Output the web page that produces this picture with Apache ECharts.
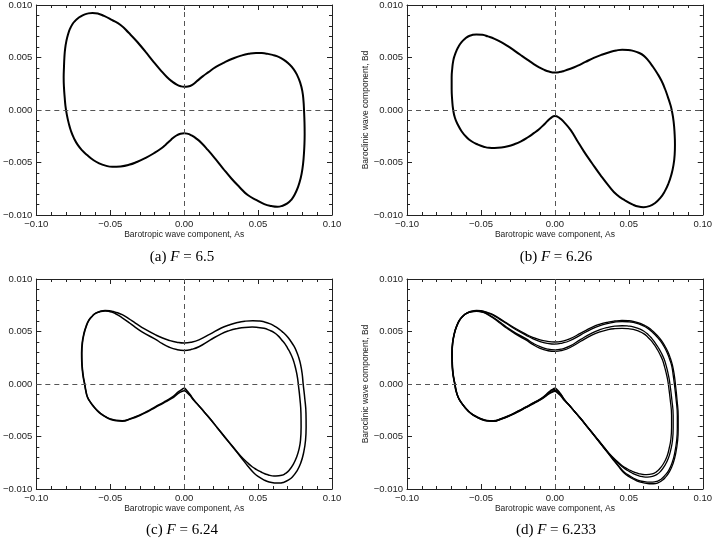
<!DOCTYPE html>
<html>
<head>
<meta charset="utf-8">
<script src="https://cdn.jsdelivr.net/npm/echarts@6/dist/echarts.min.js"></script>
<style>
html, body { margin: 0; padding: 0; background: #fff; }
#chart { width: 715px; height: 543px; }
</style>
</head>
<body>
<div id="chart"></div>
<script>
// axis ticks and labels
var xMin = -0.1, xMax = 0.1, xStep = 0.05;
var yMin = -0.01, yMax = 0.01, yStep = 0.005;
var xTickLabels = ['\u22120.10', '\u22120.05', '0.00', '0.05', '0.10'];
var yTickLabels = ['\u22120.010', '\u22120.005', '0.000', '0.005', '0.010'];
var xName = 'Barotropic wave component, As';
var yName = 'Baroclinic wave component, Bd';
var captions = ['(a)', '(b)', '(c)', '(d)'];
var forcing = ['6.5', '6.26', '6.24', '6.233'];

// (a) F = 6.5, single loop  [As, Bd]
var loopA = [
  [-0.0620,0.00925],[-0.0580,0.00917],[-0.0542,0.00896],[-0.0490,0.00858],[-0.0430,0.00810],
  [-0.0375,0.00735],[-0.0318,0.00650],[-0.0262,0.00555],[-0.0207,0.00458],[-0.0160,0.00380],
  [-0.0117,0.00314],[-0.0085,0.00275],[-0.0050,0.00242],[-0.0020,0.00225],[0.0000,0.00221],
  [0.0025,0.00224],[0.0055,0.00240],[0.0090,0.00280],[0.0125,0.00320],[0.0162,0.00358],
  [0.0215,0.00410],[0.0274,0.00454],[0.0330,0.00490],[0.0385,0.00518],[0.0436,0.00536],
  [0.0486,0.00544],[0.0525,0.00542],[0.0560,0.00536],[0.0598,0.00525],[0.0631,0.00510],
  [0.0672,0.00480],[0.0709,0.00438],[0.0740,0.00390],[0.0765,0.00330],[0.0785,0.00260],
  [0.0799,0.00182],[0.0807,0.00090],[0.0811,-0.00010],[0.0814,-0.00120],[0.0815,-0.00234],
  [0.0813,-0.00345],[0.0808,-0.00458],[0.0800,-0.00560],[0.0788,-0.00650],[0.0770,-0.00735],
  [0.0748,-0.00805],[0.0725,-0.00855],[0.0698,-0.00890],[0.0665,-0.00912],[0.0631,-0.00922],
  [0.0590,-0.00915],[0.0542,-0.00896],[0.0490,-0.00858],[0.0430,-0.00810],[0.0375,-0.00735],
  [0.0318,-0.00650],[0.0262,-0.00555],[0.0207,-0.00458],[0.0160,-0.00380],[0.0117,-0.00314],
  [0.0085,-0.00275],[0.0050,-0.00242],[0.0020,-0.00225],[0.0000,-0.00222],[-0.0025,-0.00226],
  [-0.0055,-0.00245],[-0.0090,-0.00285],[-0.0125,-0.00330],[-0.0151,-0.00362],[-0.0205,-0.00412],
  [-0.0263,-0.00458],[-0.0320,-0.00495],[-0.0374,-0.00522],[-0.0430,-0.00537],[-0.0486,-0.00541],
  [-0.0532,-0.00530],[-0.0575,-0.00508],[-0.0617,-0.00474],[-0.0654,-0.00432],[-0.0690,-0.00385],
  [-0.0721,-0.00330],[-0.0745,-0.00270],[-0.0765,-0.00202],[-0.0781,-0.00125],[-0.0794,-0.00042],
  [-0.0803,0.00040],[-0.0808,0.00118],[-0.0813,0.00215],[-0.0815,0.00310],[-0.0813,0.00405],
  [-0.0810,0.00502],[-0.0805,0.00585],[-0.0796,0.00662],[-0.0785,0.00722],[-0.0772,0.00774],
  [-0.0757,0.00815],[-0.0738,0.00848],[-0.0714,0.00878],[-0.0687,0.00902],[-0.0655,0.00918],
  [-0.0620,0.00925]
];

// (b) F = 6.26
var loopB = [
  [-0.0531,0.00720],[-0.0490,0.00716],[-0.0453,0.00701],[-0.0408,0.00678],[-0.0363,0.00646],
  [-0.0318,0.00608],[-0.0274,0.00566],[-0.0229,0.00521],[-0.0184,0.00477],[-0.0145,0.00440],
  [-0.0106,0.00406],[-0.0075,0.00384],[-0.0040,0.00366],[0.0000,0.00357],[0.0030,0.00361],
  [0.0061,0.00372],[0.0105,0.00393],[0.0151,0.00420],[0.0207,0.00458],[0.0263,0.00496],
  [0.0320,0.00528],[0.0374,0.00553],[0.0415,0.00567],[0.0455,0.00574],[0.0495,0.00572],
  [0.0530,0.00563],[0.0567,0.00545],[0.0600,0.00518],[0.0631,0.00472],[0.0660,0.00418],
  [0.0692,0.00350],[0.0721,0.00278],[0.0745,0.00200],[0.0765,0.00120],[0.0780,0.00055],
  [0.0790,0.00000],[0.0803,-0.00110],[0.0810,-0.00234],[0.0812,-0.00330],[0.0810,-0.00426],
  [0.0802,-0.00525],[0.0788,-0.00615],[0.0768,-0.00700],[0.0743,-0.00775],[0.0712,-0.00840],
  [0.0676,-0.00888],[0.0640,-0.00915],[0.0600,-0.00925],[0.0565,-0.00920],[0.0531,-0.00904],
  [0.0475,-0.00862],[0.0419,-0.00808],[0.0363,-0.00720],[0.0307,-0.00618],[0.0250,-0.00505],
  [0.0196,-0.00394],[0.0150,-0.00290],[0.0106,-0.00190],[0.0065,-0.00120],[0.0030,-0.00075],
  [0.0000,-0.00057],[-0.0028,-0.00078],[-0.0050,-0.00105],[-0.0073,-0.00138],[-0.0105,-0.00180],
  [-0.0140,-0.00218],[-0.0185,-0.00262],[-0.0229,-0.00298],[-0.0274,-0.00326],[-0.0318,-0.00346],
  [-0.0363,-0.00358],[-0.0408,-0.00362],[-0.0445,-0.00360],[-0.0475,-0.00352],[-0.0520,-0.00330],
  [-0.0564,-0.00298],[-0.0600,-0.00255],[-0.0631,-0.00202],[-0.0656,-0.00140],[-0.0676,-0.00074],
  [-0.0688,0.00005],[-0.0694,0.00086],[-0.0698,0.00200],[-0.0698,0.00310],[-0.0694,0.00395],
  [-0.0687,0.00470],[-0.0677,0.00522],[-0.0665,0.00566],[-0.0650,0.00608],[-0.0631,0.00646],
  [-0.0610,0.00676],[-0.0587,0.00700],[-0.0560,0.00714],[-0.0531,0.00720]
];

// (c) F = 6.24, period-2: outer and inner turn
var loopCOuter = [
  [-0.0535,0.00700],[-0.0505,0.00698],[-0.0480,0.00690],[-0.0450,0.00678],[-0.0419,0.00660],
  [-0.0375,0.00622],[-0.0330,0.00580],[-0.0265,0.00522],[-0.0196,0.00470],[-0.0150,0.00440],
  [-0.0100,0.00415],[-0.0050,0.00398],[0.0000,0.00390],[0.0050,0.00398],[0.0100,0.00420],
  [0.0175,0.00475],[0.0251,0.00533],[0.0305,0.00562],[0.0360,0.00585],[0.0410,0.00598],
  [0.0464,0.00603],[0.0505,0.00600],[0.0540,0.00592],[0.0578,0.00575],[0.0610,0.00552],
  [0.0642,0.00523],[0.0670,0.00490],[0.0697,0.00452],[0.0720,0.00410],[0.0742,0.00362],
  [0.0760,0.00310],[0.0775,0.00252],[0.0787,0.00190],[0.0798,0.00100],[0.0805,0.00000],
  [0.0816,-0.00140],[0.0824,-0.00280],[0.0825,-0.00410],[0.0821,-0.00536],[0.0808,-0.00655],
  [0.0788,-0.00755],[0.0762,-0.00830],[0.0732,-0.00885],[0.0705,-0.00915],[0.0675,-0.00935],
  [0.0642,-0.00944],[0.0610,-0.00942],[0.0575,-0.00933],[0.0542,-0.00915],[0.0505,-0.00885],
  [0.0470,-0.00845],[0.0430,-0.00780],[0.0385,-0.00700],[0.0330,-0.00603],[0.0273,-0.00504],
  [0.0223,-0.00416],[0.0173,-0.00329],[0.0133,-0.00262],[0.0095,-0.00201],[0.0065,-0.00150],
  [0.0040,-0.00100],[0.0018,-0.00062],[0.0000,-0.00041],[-0.0020,-0.00055],[-0.0040,-0.00075],
  [-0.0084,-0.00128],[-0.0140,-0.00175],[-0.0196,-0.00217],[-0.0248,-0.00258],[-0.0300,-0.00295],
  [-0.0360,-0.00328],[-0.0419,-0.00350],[-0.0460,-0.00346],[-0.0500,-0.00332],[-0.0530,-0.00312],
  [-0.0560,-0.00285],[-0.0587,-0.00253],[-0.0609,-0.00218],[-0.0634,-0.00172],[-0.0654,-0.00123],
  [-0.0665,-0.00060],[-0.0672,0.00000],[-0.0681,0.00066],[-0.0687,0.00132],[-0.0691,0.00212],
  [-0.0692,0.00292],[-0.0688,0.00390],[-0.0676,0.00483],[-0.0661,0.00552],[-0.0642,0.00610],
  [-0.0620,0.00648],[-0.0598,0.00674],[-0.0568,0.00692],[-0.0535,0.00700]
];
var loopCInner = [
  [-0.0535,0.00695],[-0.0505,0.00690],[-0.0480,0.00680],[-0.0450,0.00658],[-0.0419,0.00630],
  [-0.0375,0.00587],[-0.0330,0.00540],[-0.0265,0.00480],[-0.0196,0.00428],[-0.0150,0.00386],
  [-0.0100,0.00350],[-0.0050,0.00328],[0.0000,0.00320],[0.0050,0.00330],[0.0100,0.00355],
  [0.0175,0.00418],[0.0251,0.00478],[0.0305,0.00508],[0.0360,0.00528],[0.0410,0.00539],
  [0.0460,0.00542],[0.0500,0.00538],[0.0540,0.00530],[0.0575,0.00513],[0.0609,0.00490],
  [0.0636,0.00458],[0.0660,0.00420],[0.0682,0.00382],[0.0700,0.00340],[0.0719,0.00292],
  [0.0735,0.00240],[0.0749,0.00176],[0.0760,0.00110],[0.0767,0.00055],[0.0772,0.00000],
  [0.0783,-0.00140],[0.0790,-0.00280],[0.0791,-0.00410],[0.0787,-0.00536],[0.0777,-0.00620],
  [0.0761,-0.00695],[0.0738,-0.00765],[0.0709,-0.00823],[0.0685,-0.00852],[0.0660,-0.00870],
  [0.0620,-0.00877],[0.0595,-0.00875],[0.0570,-0.00866],[0.0545,-0.00855],[0.0520,-0.00838],
  [0.0490,-0.00815],[0.0460,-0.00788],[0.0425,-0.00745],[0.0385,-0.00690],[0.0330,-0.00598],
  [0.0273,-0.00500],[0.0223,-0.00413],[0.0173,-0.00326],[0.0133,-0.00262],[0.0095,-0.00200],
  [0.0065,-0.00155],[0.0040,-0.00110],[0.0018,-0.00080],[0.0000,-0.00064],[-0.0020,-0.00074],
  [-0.0040,-0.00090],[-0.0084,-0.00138],[-0.0140,-0.00182],[-0.0196,-0.00224],[-0.0248,-0.00264],
  [-0.0300,-0.00300],[-0.0360,-0.00332],[-0.0419,-0.00354],[-0.0460,-0.00350],[-0.0500,-0.00336],
  [-0.0530,-0.00316],[-0.0560,-0.00288],[-0.0587,-0.00256],[-0.0609,-0.00222],[-0.0634,-0.00175],
  [-0.0654,-0.00126],[-0.0666,-0.00062],[-0.0674,0.00000],[-0.0683,0.00066],[-0.0689,0.00132],
  [-0.0693,0.00212],[-0.0694,0.00292],[-0.0690,0.00390],[-0.0678,0.00483],[-0.0663,0.00552],
  [-0.0644,0.00610],[-0.0622,0.00646],[-0.0600,0.00672],[-0.0570,0.00688],[-0.0535,0.00695]
];

// (d) F = 6.233, period-4: two outer and two inner turns
var loopDOuter1 = [
  [-0.0530,0.00700],[-0.0500,0.00698],[-0.0475,0.00690],[-0.0447,0.00677],[-0.0418,0.00660],
  [-0.0375,0.00625],[-0.0330,0.00585],[-0.0265,0.00528],[-0.0196,0.00475],[-0.0150,0.00445],
  [-0.0100,0.00420],[-0.0050,0.00406],[0.0000,0.00400],[0.0050,0.00408],[0.0100,0.00430],
  [0.0175,0.00484],[0.0250,0.00540],[0.0305,0.00570],[0.0360,0.00590],[0.0405,0.00600],
  [0.0454,0.00605],[0.0495,0.00603],[0.0530,0.00597],[0.0567,0.00583],[0.0600,0.00563],
  [0.0635,0.00535],[0.0665,0.00500],[0.0694,0.00460],[0.0720,0.00415],[0.0744,0.00362],
  [0.0765,0.00305],[0.0781,0.00245],[0.0795,0.00180],[0.0807,0.00090],[0.0815,0.00000],
  [0.0826,-0.00150],[0.0834,-0.00310],[0.0834,-0.00430],[0.0830,-0.00540],[0.0818,-0.00655],
  [0.0800,-0.00755],[0.0775,-0.00835],[0.0745,-0.00893],[0.0722,-0.00922],[0.0700,-0.00940],
  [0.0666,-0.00950],[0.0638,-0.00950],[0.0610,-0.00945],[0.0580,-0.00935],[0.0550,-0.00920],
  [0.0510,-0.00890],[0.0470,-0.00850],[0.0430,-0.00785],[0.0385,-0.00705],[0.0330,-0.00607],
  [0.0273,-0.00505],[0.0223,-0.00418],[0.0173,-0.00330],[0.0133,-0.00262],[0.0095,-0.00200],
  [0.0065,-0.00148],[0.0040,-0.00095],[0.0018,-0.00058],[0.0000,-0.00040],[-0.0020,-0.00054],
  [-0.0040,-0.00075],[-0.0084,-0.00128],[-0.0140,-0.00175],[-0.0196,-0.00217],[-0.0248,-0.00256],
  [-0.0300,-0.00293],[-0.0360,-0.00327],[-0.0418,-0.00350],[-0.0460,-0.00346],[-0.0500,-0.00330],
  [-0.0530,-0.00310],[-0.0560,-0.00285],[-0.0587,-0.00253],[-0.0609,-0.00218],[-0.0634,-0.00172],
  [-0.0654,-0.00123],[-0.0667,-0.00060],[-0.0675,0.00000],[-0.0684,0.00066],[-0.0690,0.00132],
  [-0.0693,0.00212],[-0.0694,0.00292],[-0.0690,0.00390],[-0.0678,0.00483],[-0.0662,0.00552],
  [-0.0642,0.00610],[-0.0620,0.00648],[-0.0596,0.00675],[-0.0565,0.00693],[-0.0530,0.00700]
];
var loopDOuter2 = [
  [-0.0530,0.00697],[-0.0500,0.00694],[-0.0475,0.00686],[-0.0447,0.00672],[-0.0418,0.00655],
  [-0.0375,0.00618],[-0.0330,0.00578],[-0.0265,0.00519],[-0.0196,0.00466],[-0.0150,0.00432],
  [-0.0100,0.00404],[-0.0050,0.00387],[0.0000,0.00380],[0.0050,0.00390],[0.0100,0.00412],
  [0.0175,0.00468],[0.0250,0.00525],[0.0305,0.00557],[0.0360,0.00578],[0.0405,0.00590],
  [0.0454,0.00595],[0.0495,0.00593],[0.0530,0.00587],[0.0567,0.00573],[0.0600,0.00553],
  [0.0633,0.00525],[0.0662,0.00490],[0.0690,0.00450],[0.0716,0.00405],[0.0740,0.00352],
  [0.0760,0.00295],[0.0776,0.00236],[0.0790,0.00172],[0.0800,0.00085],[0.0808,0.00000],
  [0.0820,-0.00150],[0.0828,-0.00300],[0.0828,-0.00420],[0.0824,-0.00530],[0.0812,-0.00645],
  [0.0794,-0.00745],[0.0770,-0.00822],[0.0740,-0.00878],[0.0718,-0.00907],[0.0695,-0.00925],
  [0.0660,-0.00935],[0.0633,-0.00935],[0.0605,-0.00930],[0.0576,-0.00922],[0.0548,-0.00908],
  [0.0510,-0.00878],[0.0470,-0.00840],[0.0430,-0.00777],[0.0385,-0.00700],[0.0330,-0.00603],
  [0.0273,-0.00502],[0.0223,-0.00415],[0.0173,-0.00328],[0.0133,-0.00262],[0.0095,-0.00199],
  [0.0065,-0.00150],[0.0040,-0.00100],[0.0018,-0.00066],[0.0000,-0.00050],[-0.0020,-0.00062],
  [-0.0040,-0.00082],[-0.0084,-0.00132],[-0.0140,-0.00178],[-0.0196,-0.00220],[-0.0248,-0.00259],
  [-0.0300,-0.00296],[-0.0360,-0.00330],[-0.0418,-0.00352],[-0.0460,-0.00348],[-0.0500,-0.00332],
  [-0.0530,-0.00312],[-0.0560,-0.00287],[-0.0587,-0.00255],[-0.0609,-0.00220],[-0.0634,-0.00174],
  [-0.0654,-0.00125],[-0.0668,-0.00061],[-0.0676,0.00000],[-0.0685,0.00066],[-0.0691,0.00132],
  [-0.0694,0.00212],[-0.0695,0.00292],[-0.0691,0.00390],[-0.0679,0.00483],[-0.0663,0.00552],
  [-0.0643,0.00610],[-0.0621,0.00647],[-0.0597,0.00673],[-0.0566,0.00690],[-0.0530,0.00697]
];
var loopDInner1 = [
  [-0.0530,0.00694],[-0.0500,0.00690],[-0.0475,0.00680],[-0.0447,0.00660],[-0.0418,0.00635],
  [-0.0375,0.00592],[-0.0330,0.00545],[-0.0265,0.00485],[-0.0196,0.00432],[-0.0150,0.00390],
  [-0.0100,0.00355],[-0.0050,0.00333],[0.0000,0.00325],[0.0050,0.00335],[0.0100,0.00360],
  [0.0175,0.00425],[0.0250,0.00485],[0.0305,0.00518],[0.0360,0.00540],[0.0405,0.00551],
  [0.0454,0.00555],[0.0495,0.00552],[0.0530,0.00545],[0.0567,0.00528],[0.0600,0.00505],
  [0.0630,0.00472],[0.0655,0.00435],[0.0678,0.00392],[0.0700,0.00345],[0.0720,0.00295],
  [0.0738,0.00240],[0.0752,0.00178],[0.0763,0.00115],[0.0772,0.00055],[0.0778,0.00000],
  [0.0791,-0.00150],[0.0800,-0.00300],[0.0800,-0.00420],[0.0795,-0.00540],[0.0784,-0.00625],
  [0.0768,-0.00705],[0.0745,-0.00773],[0.0716,-0.00830],[0.0692,-0.00860],[0.0665,-0.00878],
  [0.0625,-0.00887],[0.0600,-0.00885],[0.0575,-0.00877],[0.0550,-0.00866],[0.0522,-0.00848],
  [0.0492,-0.00824],[0.0462,-0.00796],[0.0425,-0.00750],[0.0385,-0.00694],[0.0330,-0.00600],
  [0.0273,-0.00500],[0.0223,-0.00413],[0.0173,-0.00326],[0.0133,-0.00262],[0.0095,-0.00199],
  [0.0065,-0.00155],[0.0040,-0.00110],[0.0018,-0.00078],[0.0000,-0.00062],[-0.0020,-0.00074],
  [-0.0040,-0.00090],[-0.0084,-0.00136],[-0.0140,-0.00181],[-0.0196,-0.00223],[-0.0248,-0.00262],
  [-0.0300,-0.00298],[-0.0360,-0.00332],[-0.0418,-0.00354],[-0.0460,-0.00350],[-0.0500,-0.00334],
  [-0.0530,-0.00314],[-0.0560,-0.00289],[-0.0587,-0.00257],[-0.0609,-0.00222],[-0.0634,-0.00176],
  [-0.0654,-0.00127],[-0.0669,-0.00062],[-0.0677,0.00000],[-0.0686,0.00066],[-0.0692,0.00132],
  [-0.0695,0.00212],[-0.0696,0.00292],[-0.0692,0.00390],[-0.0680,0.00483],[-0.0664,0.00552],
  [-0.0644,0.00610],[-0.0622,0.00646],[-0.0598,0.00672],[-0.0567,0.00688],[-0.0530,0.00694]
];
var loopDInner2 = [
  [-0.0530,0.00692],[-0.0500,0.00687],[-0.0475,0.00677],[-0.0447,0.00655],[-0.0418,0.00628],
  [-0.0375,0.00584],[-0.0330,0.00536],[-0.0265,0.00475],[-0.0196,0.00420],[-0.0150,0.00377],
  [-0.0100,0.00340],[-0.0050,0.00318],[0.0000,0.00310],[0.0050,0.00320],[0.0100,0.00345],
  [0.0175,0.00407],[0.0250,0.00465],[0.0305,0.00497],[0.0360,0.00518],[0.0405,0.00527],
  [0.0454,0.00530],[0.0495,0.00527],[0.0530,0.00520],[0.0567,0.00503],[0.0600,0.00480],
  [0.0626,0.00450],[0.0650,0.00415],[0.0672,0.00374],[0.0692,0.00330],[0.0711,0.00281],
  [0.0728,0.00228],[0.0741,0.00168],[0.0752,0.00108],[0.0761,0.00052],[0.0767,0.00000],
  [0.0780,-0.00150],[0.0789,-0.00300],[0.0789,-0.00415],[0.0784,-0.00530],[0.0773,-0.00612],
  [0.0758,-0.00690],[0.0735,-0.00757],[0.0706,-0.00812],[0.0683,-0.00840],[0.0658,-0.00857],
  [0.0620,-0.00864],[0.0595,-0.00862],[0.0570,-0.00855],[0.0545,-0.00844],[0.0518,-0.00828],
  [0.0488,-0.00806],[0.0458,-0.00780],[0.0423,-0.00738],[0.0385,-0.00688],[0.0330,-0.00596],
  [0.0273,-0.00498],[0.0223,-0.00411],[0.0173,-0.00324],[0.0133,-0.00261],[0.0095,-0.00198],
  [0.0065,-0.00158],[0.0040,-0.00115],[0.0018,-0.00085],[0.0000,-0.00070],[-0.0020,-0.00080],
  [-0.0040,-0.00095],[-0.0084,-0.00140],[-0.0140,-0.00184],[-0.0196,-0.00226],[-0.0248,-0.00265],
  [-0.0300,-0.00300],[-0.0360,-0.00334],[-0.0418,-0.00356],[-0.0460,-0.00352],[-0.0500,-0.00336],
  [-0.0530,-0.00316],[-0.0560,-0.00290],[-0.0587,-0.00258],[-0.0609,-0.00224],[-0.0634,-0.00177],
  [-0.0654,-0.00128],[-0.0670,-0.00063],[-0.0678,0.00000],[-0.0687,0.00066],[-0.0693,0.00132],
  [-0.0696,0.00212],[-0.0697,0.00292],[-0.0693,0.00390],[-0.0681,0.00483],[-0.0665,0.00552],
  [-0.0645,0.00610],[-0.0623,0.00645],[-0.0599,0.00671],[-0.0568,0.00687],[-0.0530,0.00692]
];

var panels = [
  { left: 33, top: 5, width: 299, height: 210, yTitle: false, loops: [loopA], lw: 2, smooth: 0.5, start: 6, cx: 182, cy: 257 },
  { left: 407, top: 5, width: 298, height: 210, yTitle: true, loops: [loopB], lw: 2, smooth: 0.5, start: 6, cx: 556, cy: 257 },
  { left: 33, top: 279, width: 299, height: 210, yTitle: false, loops: [loopCOuter, loopCInner], lw: 1.5, smooth: 0.5, start: 7, cx: 182, cy: 530 },
  { left: 407, top: 279, width: 298, height: 210, yTitle: true, loops: [loopDOuter1, loopDOuter2, loopDInner1, loopDInner2], lw: 1.3, smooth: 0.5, start: 7, cx: 556, cy: 530 }
];

var textCol = '#222';
var sans = '"Liberation Sans", Arial, sans-serif';
var serif = '"Liberation Serif", "Times New Roman", serif';

function fix(v) { return Math.abs(v) < 1e-9 ? 0 : v; }

// start the closed path in a straight stretch and run one step past the end,
// so the smoothing has no visible seam
function closedPath(loop, start) {
  var body = loop.slice(0, loop.length - 1);
  var r = body.slice(start).concat(body.slice(0, start));
  r.push(r[0], r[1]);
  return r;
}

function xAxisFor(i, pos, p) {
  var bottom = pos === 'bottom';
  return {
    type: 'value', gridIndex: i, position: pos,
    min: xMin, max: xMax, interval: xStep,
    axisLine: { show: true, onZero: false, lineStyle: { color: textCol, width: 1 } },
    axisTick: { show: true, inside: true, length: 5, lineStyle: { color: textCol } },
    minorTick: { show: true, splitNumber: 5, length: 3, lineStyle: { color: textCol } },
    splitLine: { show: false },
    axisLabel: {
      show: bottom, margin: 4, color: textCol, fontFamily: sans, fontSize: 9.5,
      formatter: function (v) { return xTickLabels[Math.round((fix(v) - xMin) / xStep)]; }
    },
    name: bottom ? xName : '',
    nameLocation: 'middle', nameGap: 14,
    nameTextStyle: { color: textCol, fontFamily: sans, fontSize: 8.5 }
  };
}

function yAxisFor(i, pos, p) {
  var left = pos === 'left';
  return {
    type: 'value', gridIndex: i, position: pos,
    min: yMin, max: yMax, interval: yStep,
    axisLine: { show: true, onZero: false, lineStyle: { color: textCol, width: 1 } },
    axisTick: { show: true, inside: true, length: 5, lineStyle: { color: textCol } },
    minorTick: { show: true, splitNumber: 5, length: 3, lineStyle: { color: textCol } },
    splitLine: { show: false },
    axisLabel: {
      show: left, margin: 4, color: textCol, fontFamily: sans, fontSize: 9.5,
      formatter: function (v) { return yTickLabels[Math.round((fix(v) - yMin) / yStep)]; }
    },
    name: (left && p.yTitle) ? yName : '',
    nameLocation: 'middle', nameGap: 25, nameRotate: 90,
    nameTextStyle: { color: textCol, fontFamily: sans, fontSize: 8.5 }
  };
}

var grids = [], xAxes = [], yAxes = [], series = [], graphics = [];

panels.forEach(function (p, i) {
  grids.push({ left: p.left, top: p.top, width: p.width, height: p.height, containLabel: false });
  xAxes.push(xAxisFor(i, 'bottom', p));
  xAxes.push(xAxisFor(i, 'top', p));
  yAxes.push(yAxisFor(i, 'left', p));
  yAxes.push(yAxisFor(i, 'right', p));

  p.loops.forEach(function (loop, k) {
    var s = {
      type: 'line', xAxisIndex: i * 2, yAxisIndex: i * 2,
      data: closedPath(loop, p.start), symbol: 'none', showSymbol: false, smooth: p.smooth,
      lineStyle: { color: '#000', width: p.lw },
      silent: true, z: 3
    };
    if (k === 0) {
      // dashed zero lines
      s.markLine = {
        silent: true, symbol: ['none', 'none'], label: { show: false },
        lineStyle: { type: [5, 4], color: '#555', width: 1 },
        data: [{ xAxis: 0 }, { yAxis: 0 }]
      };
    }
    series.push(s);
  });

  graphics.push({
    type: 'text', x: p.cx, y: p.cy,
    style: {
      text: '{n|' + captions[i] + ' }{i|F}{n| = ' + forcing[i] + '}',
      align: 'center', verticalAlign: 'middle',
      fill: '#000', font: '15px ' + serif,
      rich: {
        n: { fontFamily: serif, fontSize: 15, fill: '#000' },
        i: { fontFamily: serif, fontSize: 15, fontStyle: 'italic', fill: '#000' }
      }
    }
  });
});

var chart = echarts.init(document.getElementById('chart'));
chart.setOption({
  animation: false,
  backgroundColor: '#fff',
  grid: grids,
  xAxis: xAxes,
  yAxis: yAxes,
  series: series,
  graphic: graphics
});
</script>
</body>
</html>
